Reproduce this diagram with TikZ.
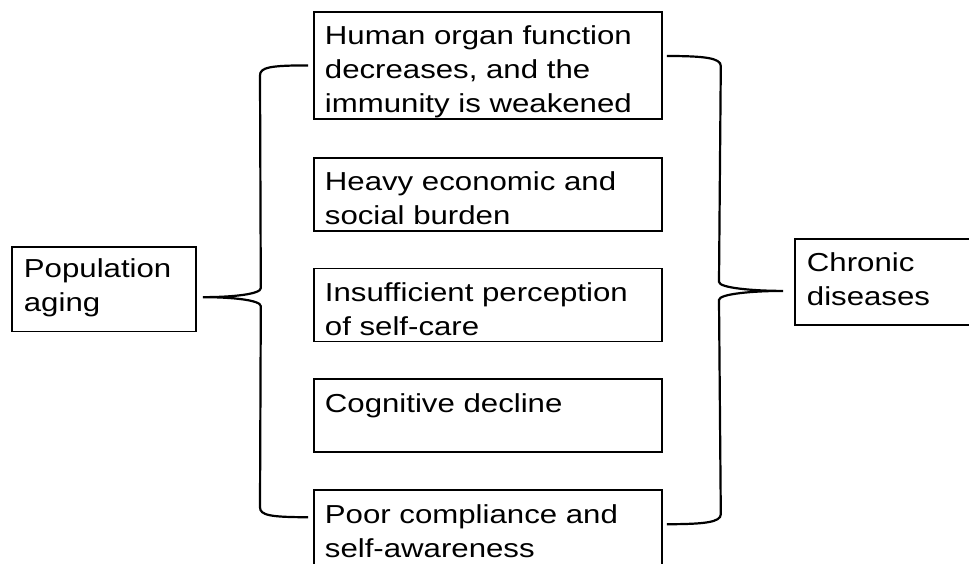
\documentclass[tikz,border=0pt]{standalone}
\usepackage{fontspec}
\setmainfont{Liberation Sans}[FakeStretch=1.2]
\usetikzlibrary{positioning, calc}

\begin{document}
\begin{tikzpicture}
[x=0.5pt, y=-0.5pt,
font=\fontsize{13}{17}\selectfont,
basebox/.style={draw=black, line width=0.9pt, rectangle, anchor=north west, align=left, inner ysep=0pt},
cause/.style={basebox, text width=163pt, inner xsep=5.5pt, text height=16.5pt, text depth=20pt},
endbox/.style={basebox, inner xsep=6pt, text height=15.5pt, text depth=26.75pt},
brace/.style={line width=1.1pt},
node distance=18pt]
\useasboundingbox (0,0) rectangle (969,563);
\clip (0,0) rectangle (969,563);

\node (organ) [cause, text depth=37pt] at (313,11) {Human organ function\\decreases, and the\\immunity is weakened};
\node (burden) [cause, below=18.5pt of organ] {Heavy economic and\\social burden};
\node (selfcare) [cause, below=of burden] {Insufficient perception\\of self-care};
\node (cognitive) [cause, below=of selfcare] {Cognitive decline};
\node (compliance) [cause, text depth=22pt, below=of cognitive] {Poor compliance and\\self-awareness};

\node (aging) [endbox, text width=80pt] at (11,246) {Population\\aging};
\node (chronic) [endbox, text width=92pt, text height=16.5pt, text depth=26.5pt] at (794,238) {Chronic\\diseases};

% brace ends
\coordinate (ltop) at ([xshift=-2.5pt]organ.west);
\coordinate (lbot) at ([xshift=-2.5pt, yshift=-14pt]compliance.north west);
\coordinate (ltip) at ([xshift=3pt, yshift=-4pt]aging.east);
\coordinate (rtop) at ([xshift=2pt, yshift=-22.5pt]organ.north east);
\coordinate (rbot) at ([xshift=2pt, yshift=-17.5pt]compliance.north east);
\coordinate (rtip) at ([xshift=-5.5pt, yshift=-4.5pt]chronic.west);

\draw [brace] (ltop) .. controls +(-38,0) and +(0,-8) .. ++(-48,10)
  -- ($(ltip)+(58,-9)$) .. controls +(0,6) and +(30,0) .. (ltip)
  .. controls +(30,0) and +(0,-6) .. ($(ltip)+(58,9)$)
  -- ($(lbot)+(-48,-10)$) .. controls +(0,8) and +(-38,0) .. (lbot);

\draw [brace] (rtop) .. controls +(38,0) and +(0,-8) .. ++(54,10)
  -- ($(rtip)+(-64,-9)$) .. controls +(0,6) and +(-30,0) .. (rtip)
  .. controls +(-30,0) and +(0,-6) .. ($(rtip)+(-64,9)$)
  -- ($(rbot)+(54,-10)$) .. controls +(0,8) and +(38,0) .. (rbot);

\end{tikzpicture}
\end{document}
